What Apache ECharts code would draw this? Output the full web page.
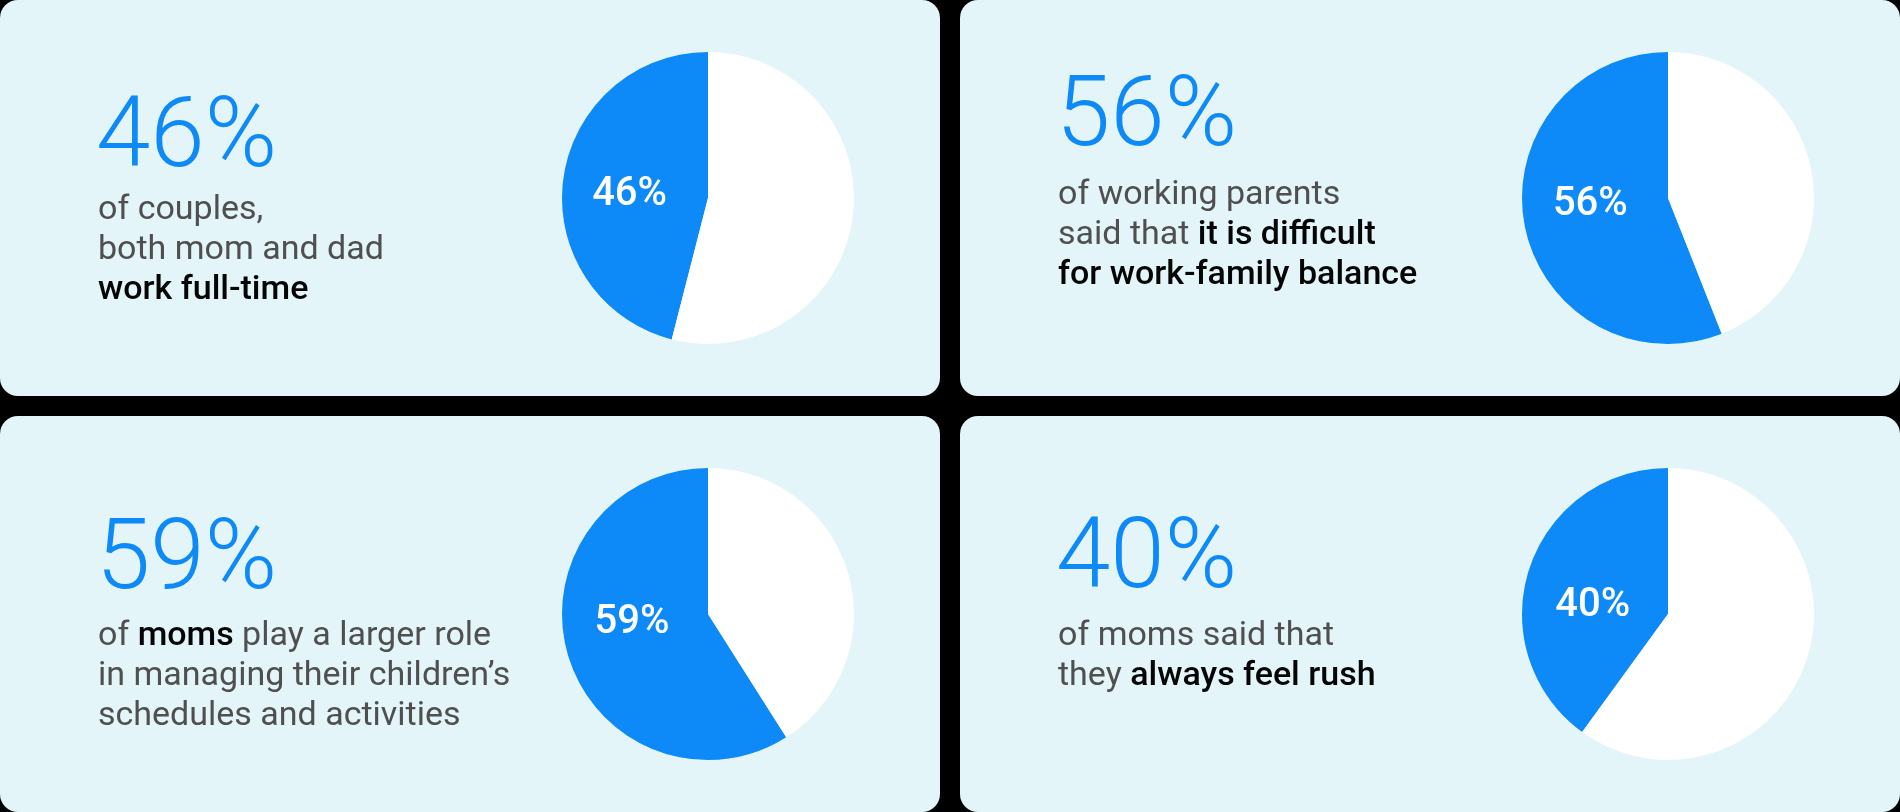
<!DOCTYPE html>
<html><head><meta charset="utf-8">
<script src="https://cdn.jsdelivr.net/npm/echarts@6/dist/echarts.min.js"></script>
<style>html,body{margin:0;padding:0;background:#000;} #c{width:1900px;height:812px;}</style>
</head><body><div id="c"></div>
<script>
// ---- data ----
const statValues = [46, 56, 59, 40];
const statNames = ['Both parents work full-time', 'Work-family balance is difficult', 'Moms manage schedules', 'Moms always feel rushed'];
const captionTL = ['{n|of couples,}', '{n|both mom and dad}', '{b|work full-time}'];
const captionTR = ['{n|of working parents}', '{n|said that }{b|it is difficult}', '{b|for work-family balance}'];
const captionBL = ['{n|of }{b|moms}{n| play a larger role}', '{n|in managing their children\u2019s}', '{n|schedules and activities}'];
const captionBR = ['{n|of moms said that}', '{n|they }{b|always feel rush}'];
const captions = [captionTL, captionTR, captionBL, captionBR];

// ---- layout / style ----
const BLUE = '#0d8af7', PANEL_BG = '#e3f5f8', GRAY = '#4f4f4f', BLACK = '#050505';
const PANEL_W = 940, PANEL_H = 396, PANEL_R = 18;
const panelPos = [[0, 0], [960, 0], [0, 416], [960, 416]];
const PIE_CX = 708, PIE_CY = 198, PIE_R = 146;
const numTop = [100, 79, 106, 105];
const firstBase = [218, 203, 228, 228];
const FONT = 'Roboto, "Noto Sans", sans-serif';

const chart = echarts.init(document.getElementById('c'), null, {renderer: 'canvas'});

const graphics = [];
panelPos.forEach((p, i) => {
  graphics.push({type: 'rect', z: -10, silent: true,
    shape: {x: p[0], y: p[1], width: PANEL_W, height: PANEL_H, r: PANEL_R},
    style: {fill: PANEL_BG}});
  graphics.push({type: 'text', z: 10, silent: true,
    x: p[0] + 96, y: p[1] + numTop[i] + 41,
    style: {text: statValues[i] + '%', font: '300 98px ' + FONT, fill: BLUE, verticalAlign: 'middle', align: 'left'}});
  graphics.push({type: 'text', z: 10, silent: true,
    x: p[0] + 98, y: p[1] + firstBase[i] - 28,
    style: {text: captions[i].join('\n'), verticalAlign: 'top', align: 'left', lineHeight: 40,
      rich: {
        n: {fontFamily: FONT, fontSize: 34, fontWeight: 400, fill: GRAY, lineHeight: 40},
        b: {fontFamily: FONT, fontSize: 34, fontWeight: 500, fill: BLACK, lineHeight: 40}
      }}});
});

const series = panelPos.map((p, i) => ({
  type: 'pie',
  center: [p[0] + PIE_CX, p[1] + PIE_CY],
  radius: PIE_R,
  startAngle: 90,
  clockwise: false,
  silent: true,
  animation: false,
  itemStyle: {borderWidth: 0},
  labelLine: {show: false},
  data: [
    {name: statNames[i], value: statValues[i], itemStyle: {color: BLUE},
      label: {show: true, position: 'inside', formatter: '{c}%', color: '#fff',
        fontFamily: FONT, fontSize: 40, fontWeight: 500}},
    {name: 'Other', value: 100 - statValues[i], itemStyle: {color: '#ffffff'}, label: {show: false}}
  ],
  labelLayout: function (params) {
    const cy = p[1] + PIE_CY;
    const ly = params.labelRect.y + params.labelRect.height / 2;
    return {dx: -3, dy: (ly - cy) * -0.6 + 1};
  }
}));

chart.setOption({
  backgroundColor: '#000',
  animation: false,
  graphic: graphics,
  series: series
});
</script></body></html>
